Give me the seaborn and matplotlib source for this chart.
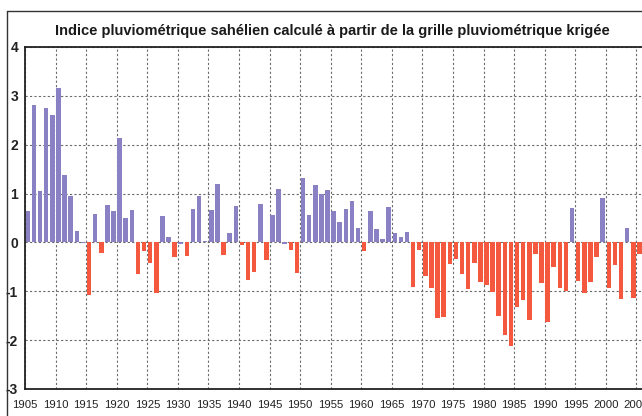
import matplotlib
matplotlib.use("Agg")
import matplotlib.pyplot as plt
import seaborn as sns
import numpy as np
import pandas as pd

# =========================
# DATA
# =========================
years = list(range(1905, 2006))
index_values = [
    0.65, 2.82, 1.05, 2.75, 2.61, 3.17, 1.37, 0.96, 0.24, -0.02,   # 1905-1914
    -1.07, 0.59, -0.21, 0.76, 0.64, 2.14, 0.51, 0.66, -0.65, -0.18,  # 1915-1924
    -0.43, -1.03, 0.54, 0.11, -0.29, -0.03, -0.27, 0.68, 0.95, 0.03,  # 1925-1934
    0.66, 1.20, -0.25, 0.20, 0.75, -0.05, -0.77, -0.61, 0.78, -0.36,  # 1935-1944
    0.57, 1.09, -0.04, -0.15, -0.63, 1.32, 0.57, 1.17, 1.00, 1.08,   # 1945-1954
    0.64, 0.42, 0.68, 0.84, 0.29, -0.18, 0.64, 0.27, 0.07, 0.73,     # 1955-1964
    0.20, 0.12, 0.22, -0.92, -0.16, -0.69, -0.93, -1.55, -1.53, -0.45,  # 1965-1974
    -0.33, -0.65, -0.96, -0.43, -0.81, -0.88, -1.01, -1.50, -1.89, -2.13,  # 1975-1984
    -1.33, -1.18, -1.59, -0.24, -0.84, -1.62, -0.50, -0.93, -0.99, 0.71,  # 1985-1994
    -0.78, -1.04, -0.82, -0.29, 0.90, -0.94, -0.46, -1.16, 0.29, -1.13,  # 1995-2004
    -0.24,                                                              # 2005
]
x_tick_years = list(range(1905, 2006, 5))
y_ticks = [-3, -2, -1, 0, 1, 2, 3, 4]

color_wet = "#8a80c4"
color_dry = "#f4583e"

df = pd.DataFrame({"year": years, "value": index_values})
# near-zero values are drawn in the "wet" colour in the original
df["phase"] = np.where(df["value"] >= -0.045, "wet", "dry")
df["pos"] = df["year"] + 0.47

# =========================
# PLOT
# =========================
sns.set_style("white")
plt.rcParams["font.family"] = ["Liberation Sans", "DejaVu Sans"]

fig = plt.figure(figsize=(6.42, 4.16), dpi=100)
ax = fig.add_axes([25 / 642, 1 - 389 / 416, 1 - 25 / 642, (389 - 47) / 416])

sns.barplot(
    data=df, x="pos", y="value", hue="phase",
    palette={"wet": color_wet, "dry": color_dry},
    native_scale=True, dodge=False, legend=False, saturation=1,
    width=0.74, linewidth=0, ax=ax,
)

ax.set_xlim(1905, 2005.9)
ax.set_ylim(-3, 4)
ax.set_xticks(x_tick_years)
ax.set_xticklabels([str(y) for y in x_tick_years], fontsize=8.2)
ax.set_yticks(y_ticks)
ax.set_yticklabels([str(v) for v in y_ticks], fontsize=10, fontweight="bold")
ax.set_xlabel("")
ax.set_ylabel("")

ax.grid(True, color="#6a6a6a", linestyle=(0, (2, 2)), linewidth=0.8)
ax.set_axisbelow(True)

for side in ["top", "left", "bottom"]:
    ax.spines[side].set_color("#222222")
    ax.spines[side].set_linewidth(1.3)
ax.spines["right"].set_visible(False)
ax.tick_params(axis="x", length=0, pad=8, colors="#222222")
ax.tick_params(axis="y", length=3, width=0.8, pad=2, colors="#222222")

# outer frame
fig.add_artist(plt.Line2D([7 / 642, 1], [1 - 11 / 416, 1 - 11 / 416],
                          color="#333333", linewidth=1.0, transform=fig.transFigure))
fig.add_artist(plt.Line2D([7 / 642, 7 / 642], [0, 1 - 11 / 416],
                          color="#333333", linewidth=1.0, transform=fig.transFigure))

fig.text(332 / 642, 1 - 31 / 416,
         "Indice pluviométrique sahélien calculé à partir de la grille pluviométrique krigée",
         ha="center", va="center", fontsize=10.5, fontweight="bold", color="#1a1a1a")

fig.savefig("out.png", dpi=100)
